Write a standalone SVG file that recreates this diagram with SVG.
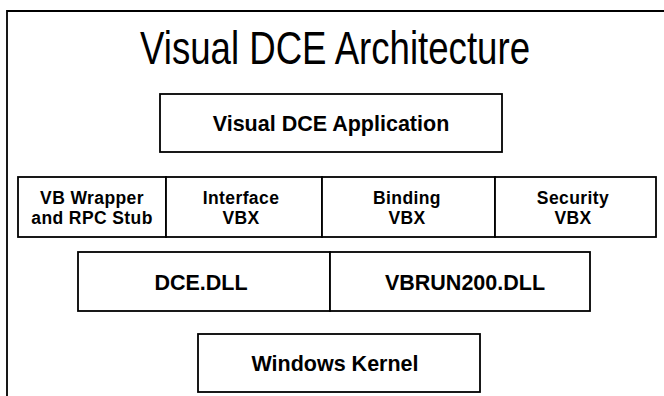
<svg xmlns="http://www.w3.org/2000/svg" width="664" height="396" viewBox="0 0 664 396">
<style>
.box{fill:#fff;stroke:#000;stroke-width:1.8}
.lbl{font-family:"Liberation Sans",Arial,sans-serif;font-weight:bold;font-size:21.5px;text-anchor:middle;fill:#000}
.two{font-size:17.5px;letter-spacing:0.4px}
.title{font-family:"Liberation Sans Narrow","Liberation Sans",Arial,sans-serif;font-size:47px;fill:#000}
.frame{fill:none;stroke:#000;stroke-width:1.8}
</style>
<rect width="664" height="396" fill="#fff"/>
<path class="frame" d="M7,396 V11 H664"/>
<text class="title" x="140" y="64" textLength="390" lengthAdjust="spacingAndGlyphs">Visual DCE Architecture</text>
<g id="app">
<rect class="box" x="160" y="94" width="342" height="58"/>
<text class="lbl" x="331" y="131">Visual DCE Application</text>
</g>
<g id="vbwrapper">
<rect class="box" x="18" y="177" width="148" height="60"/>
<text class="lbl two" x="92" y="204">VB Wrapper</text>
<text class="lbl two" x="92" y="224">and RPC Stub</text>
</g>
<g id="interface">
<rect class="box" x="166" y="177" width="156" height="60"/>
<text class="lbl two" x="241" y="204">Interface</text>
<text class="lbl two" x="241" y="224">VBX</text>
</g>
<g id="binding">
<rect class="box" x="322" y="177" width="173" height="60"/>
<text class="lbl two" x="407" y="204">Binding</text>
<text class="lbl two" x="407" y="224">VBX</text>
</g>
<g id="security">
<rect class="box" x="495" y="177" width="161" height="60"/>
<text class="lbl two" x="573" y="204">Security</text>
<text class="lbl two" x="573" y="224">VBX</text>
</g>
<g id="dcedll">
<rect class="box" x="78" y="252" width="252" height="59"/>
<text class="lbl" x="201" y="290">DCE.DLL</text>
</g>
<g id="vbrun">
<rect class="box" x="330" y="252" width="260" height="59"/>
<text class="lbl" x="465" y="290">VBRUN200.DLL</text>
</g>
<g id="kernel">
<rect class="box" x="198" y="334" width="282" height="58"/>
<text class="lbl" x="335" y="371">Windows Kernel</text>
</g>
<g id="connectors"></g>
</svg>
